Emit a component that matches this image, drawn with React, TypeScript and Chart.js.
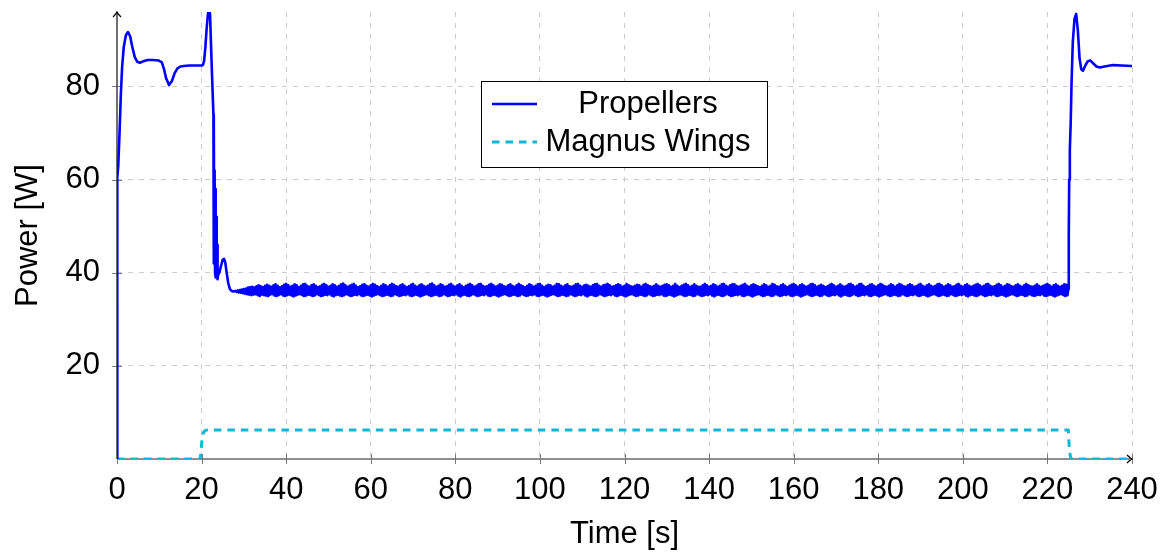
import React, { useEffect, useRef } from 'react';
import { Chart, registerables } from 'chart.js';

Chart.register(...registerables);

const FONT = '"Liberation Sans", Arial, Helvetica, sans-serif';
const FONT_SIZE = 31;

// axis ticks
const xTickValues = [0, 20, 40, 60, 80, 100, 120, 140, 160, 180, 200, 220, 240];
const yTickValues = [20, 40, 60, 80];
const X_MIN = 0;
const X_MAX = 240;
const Y_MIN = 0;
const Y_MAX = 96;

const seriesLabels = ['Propellers', 'Magnus Wings'];
const seriesColors = ['#0000ff', '#0db8d6'];

// Propellers: start-up transient (time [s], power [W])
const propHeadTime = [0, 0.03, 0.1, 0.3, 0.6, 0.9, 1.2, 1.6, 2.1, 2.6, 3.1, 3.6, 4.2, 4.8, 5.4, 6.2, 7.2, 8.5, 9.8, 10.6, 11.1, 11.6, 12.3, 13.0, 13.6, 14.3, 15.0, 15.8, 17.0, 18.5, 20.0, 20.3, 20.6, 20.9, 21.2, 21.5, 21.75, 22.0, 22.3, 22.6, 22.8, 22.85, 22.92, 23.0, 23.08, 23.18, 23.28, 23.38, 23.48, 23.58, 23.68, 23.78, 23.9, 24.2, 24.6, 25.0, 25.3, 25.6, 25.9, 26.3, 26.7, 27.1, 27.5];
const propHeadPower = [0, 45, 60.5, 63, 70, 78, 84, 88.5, 91, 91.7, 90.8, 88.6, 86.3, 85.3, 85.1, 85.4, 85.7, 85.7, 85.6, 85.2, 83.8, 81.8, 80.3, 81.2, 82.8, 83.9, 84.3, 84.4, 84.5, 84.5, 84.5, 84.6, 85.5, 88.5, 92.5, 95.5, 96.8, 95.5, 87, 79, 74, 42, 73, 44, 62, 40, 58, 39, 52, 40, 46, 38.6, 39.5, 40, 41.5, 42.8, 43.0, 42.2, 40.2, 37.8, 36.5, 36.1, 36.0];

// Propellers: cruise phase, sampled every 0.25 s from 28 s
const propCruiseStart = 28;
const propCruiseStep = 0.25;
const propCruisePower = [
  36.1, 35.9, 36.2, 35.8, 36.3, 35.7, 36.4, 35.6, 36.5, 35.5, 36.6, 35.4, 36.8, 35.3, 36.9, 35.2, 37.0, 35.3, 36.8, 35.4, 37.1, 35.2, 37.3, 35.0, 37.1, 35.3, 36.9, 35.2, 37.2, 35.1, 37.4, 35.0, 37.2, 35.3, 37.0, 35.4, 37.3, 35.1, 37.5, 35.0,
  37.2, 35.2, 36.9, 35.4, 37.1, 35.1, 37.4, 35.0, 37.6, 35.2, 37.3, 35.3, 37.0, 35.1, 37.2, 34.9, 37.5, 35.1, 37.3, 35.3, 36.9, 35.4, 37.2, 35.2, 37.5, 35.0, 37.6, 35.1, 37.2, 35.3, 37.0, 35.2, 37.3, 35.0, 37.5, 35.1, 37.2, 35.4, 36.9, 35.2,
  37.1, 35.0, 37.4, 35.1, 37.6, 35.3, 37.3, 35.2, 37.0, 35.4, 37.2, 35.1, 37.5, 34.9, 37.3, 35.2, 37.0, 35.3, 37.2, 35.1, 37.5, 35.0, 37.7, 35.2, 37.3, 35.4, 37.0, 35.2, 37.2, 35.0, 37.4, 35.1, 37.6, 35.3, 37.2, 35.2, 36.9, 35.4, 37.1, 35.1,
  37.4, 35.0, 37.5, 35.2, 37.2, 35.3, 37.0, 35.1, 37.3, 34.9, 37.6, 35.1, 37.4, 35.3, 37.1, 35.4, 36.9, 35.2, 37.2, 35.0, 37.5, 35.1, 37.3, 35.3, 37.0, 35.2, 37.3, 35.0, 37.6, 35.1, 37.4, 35.4, 37.1, 35.2, 37.0, 35.0, 37.3, 35.1, 37.5, 35.3,
  37.2, 35.2, 36.9, 35.4, 37.1, 35.1, 37.4, 35.0, 37.6, 35.2, 37.2, 35.3, 37.0, 35.1, 37.3, 34.9, 37.5, 35.1, 37.2, 35.3, 37.0, 35.4, 37.2, 35.2, 37.5, 35.0, 37.7, 35.1, 37.3, 35.3, 37.0, 35.2, 37.2, 35.0, 37.5, 35.1, 37.3, 35.4, 37.0, 35.2,
  37.1, 35.0, 37.4, 35.1, 37.6, 35.3, 37.2, 35.2, 37.0, 35.4, 37.3, 35.1, 37.5, 34.9, 37.2, 35.2, 36.9, 35.3, 37.2, 35.1, 37.4, 35.0, 37.6, 35.2, 37.3, 35.4, 37.0, 35.2, 37.2, 35.0, 37.5, 35.1, 37.6, 35.3, 37.2, 35.2, 37.0, 35.4, 37.1, 35.1,
  37.4, 35.0, 37.6, 35.2, 37.3, 35.3, 37.0, 35.1, 37.2, 34.9, 37.5, 35.1, 37.4, 35.3, 37.1, 35.4, 37.0, 35.2, 37.3, 35.0, 37.5, 35.1, 37.2, 35.3, 37.0, 35.2, 37.3, 35.0, 37.6, 35.1, 37.3, 35.4, 37.1, 35.2, 36.9, 35.0, 37.2, 35.1, 37.5, 35.3,
  37.3, 35.2, 37.0, 35.4, 37.2, 35.1, 37.5, 35.0, 37.6, 35.2, 37.2, 35.3, 36.9, 35.1, 37.2, 34.9, 37.4, 35.1, 37.3, 35.3, 37.0, 35.4, 37.2, 35.2, 37.6, 35.0, 37.5, 35.1, 37.2, 35.3, 37.0, 35.2, 37.3, 35.0, 37.5, 35.1, 37.1, 35.4, 37.0, 35.2,
  37.2, 35.0, 37.5, 35.1, 37.6, 35.3, 37.2, 35.2, 37.0, 35.4, 37.3, 35.1, 37.4, 34.9, 37.2, 35.2, 37.0, 35.3, 37.3, 35.1, 37.5, 35.0, 37.6, 35.2, 37.2, 35.4, 37.0, 35.2, 37.3, 35.0, 37.4, 35.1, 37.6, 35.3, 37.3, 35.2, 37.0, 35.4, 37.1, 35.1,
  37.3, 35.0, 37.5, 35.2, 37.3, 35.3, 37.0, 35.1, 37.2, 34.9, 37.6, 35.1, 37.3, 35.3, 37.1, 35.4, 37.0, 35.2, 37.2, 35.0, 37.4, 35.1, 37.3, 35.3, 37.0, 35.2, 37.4, 35.0, 37.6, 35.1, 37.3, 35.4, 37.1, 35.2, 37.0, 35.0, 37.2, 35.1, 37.5, 35.3,
  37.2, 35.2, 37.0, 35.4, 37.2, 35.1, 37.4, 35.0, 37.5, 35.2, 37.3, 35.3, 37.0, 35.1, 37.2, 34.9, 37.6, 35.1, 37.2, 35.3, 36.9, 35.4, 37.2, 35.2, 37.4, 35.0, 37.6, 35.1, 37.3, 35.3, 37.0, 35.2, 37.2, 35.0, 37.5, 35.1, 37.2, 35.4, 37.0, 35.2,
  37.0, 35.0, 37.3, 35.1, 37.6, 35.3, 37.3, 35.2, 37.0, 35.4, 37.2, 35.1, 37.5, 34.9, 37.3, 35.2, 37.0, 35.3, 37.2, 35.1, 37.5, 35.0, 37.6, 35.2, 37.2, 35.4, 37.0, 35.2, 37.3, 35.0, 37.5, 35.1, 37.5, 35.3, 37.2, 35.2, 37.0, 35.4, 37.2, 35.1,
  37.4, 35.0, 37.6, 35.2, 37.2, 35.3, 37.0, 35.1, 37.3, 34.9, 37.5, 35.1, 37.3, 35.3, 37.1, 35.4, 36.9, 35.2, 37.2, 35.0, 37.5, 35.1, 37.3, 35.3, 37.0, 35.2, 37.2, 35.0, 37.6, 35.1, 37.4, 35.4, 37.1, 35.2, 37.0, 35.0, 37.3, 35.1, 37.5, 35.3,
  37.2, 35.2, 36.9, 35.4, 37.2, 35.1, 37.4, 35.0, 37.6, 35.2, 37.3, 35.3, 37.0, 35.1, 37.3, 34.9, 37.5, 35.1, 37.2, 35.3, 37.0, 35.4, 37.2, 35.2, 37.5, 35.0, 37.6, 35.1, 37.3, 35.3, 37.0, 35.2, 37.2, 35.0, 37.4, 35.1, 37.2, 35.4, 36.9, 35.2,
  37.1, 35.0, 37.4, 35.1, 37.6, 35.3, 37.3, 35.2, 37.0, 35.4, 37.2, 35.1, 37.5, 34.9, 37.2, 35.2, 37.0, 35.3, 37.2, 35.1, 37.5, 35.0, 37.6, 35.2, 37.3, 35.4, 37.0, 35.2, 37.2, 35.0, 37.5, 35.1, 37.6, 35.3, 37.2, 35.2, 36.9, 35.4, 37.1, 35.1,
  37.4, 35.0, 37.5, 35.2, 37.2, 35.3, 37.0, 35.1, 37.3, 34.9, 37.6, 35.1, 37.4, 35.3, 37.1, 35.4, 37.0, 35.2, 37.2, 35.0, 37.5, 35.1, 37.3, 35.3, 37.0, 35.2, 37.3, 35.0, 37.6, 35.1, 37.4, 35.4, 37.1, 35.2, 37.0, 35.0, 37.3, 35.1, 37.5, 35.3,
  37.3, 35.2, 37.0, 35.4, 37.1, 35.1, 37.4, 35.0, 37.6, 35.2, 37.2, 35.3, 37.0, 35.1, 37.3, 34.9, 37.5, 35.1, 37.2, 35.3, 37.0, 35.4, 37.2, 35.2, 37.5, 35.0, 37.6, 35.1, 37.3, 35.3, 37.0, 35.2, 37.2, 35.0, 37.5, 35.1, 37.3, 35.4, 37.0, 35.2,
  37.1, 35.0, 37.4, 35.1, 37.6, 35.3, 37.2, 35.2, 37.0, 35.4, 37.3, 35.1, 37.5, 34.9, 37.2, 35.2, 37.0, 35.3, 37.2, 35.1, 37.4, 35.0, 37.6, 35.2, 37.3, 35.4, 37.0, 35.2, 37.2, 35.0, 37.5, 35.1, 37.6, 35.3, 37.2, 35.2, 37.0, 35.4, 37.1, 35.1,
  37.4, 35.0, 37.6, 35.2, 37.3, 35.3, 37.0, 35.1, 37.2, 34.9, 37.5, 35.1, 37.4, 35.3, 37.1, 35.4, 37.0, 35.2, 37.3, 35.0, 37.5, 35.1, 37.2, 35.3, 37.0, 35.2, 37.3, 35.0, 37.6, 35.1, 37.3, 35.4, 37.1, 35.2, 37.0, 35.0, 37.2, 35.1, 37.5, 35.3,
  37.2, 35.2, 37.0, 35.4, 37.2, 35.1, 37.4, 35.0, 37.6, 35.2, 37.3, 35.3, 37.0, 35.1, 37.3, 34.9, 37.5, 35.1, 37.2, 35.3, 37.0, 35.4, 37.2, 35.2, 37.5, 35.0, 37.4, 35.2,
];

// Propellers: wings off again, end transient
const propTailTime = [224.95, 225.05, 225.15, 225.3, 225.5, 225.7, 226.0, 226.4, 226.8, 227.2, 227.6, 228.0, 228.4, 228.9, 229.5, 230.1, 230.8, 231.6, 232.4, 233.5, 235.5, 237.5, 240];
const propTailPower = [36.5, 48, 60, 66.5, 72, 80.5, 89.5, 94.5, 95.6, 92, 86, 83.7, 83.4, 84.4, 85.4, 85.6, 85, 84.3, 84.1, 84.3, 84.6, 84.5, 84.4];

// Magnus wings
const magnusTime = [0, 19.7, 19.9, 20.1, 20.4, 20.8, 21.3, 224.95, 225.1, 225.25, 225.5, 225.8, 240];
const magnusPower = [0, 0, 2, 4.3, 5.6, 6.1, 6.25, 6.25, 3.5, 1.5, 0.3, 0, 0];

function buildPropellers() {
  const pts: { x: number; y: number }[] = [];
  propHeadTime.forEach((t, i) => pts.push({ x: t, y: propHeadPower[i] }));
  propCruisePower.forEach((v, i) => pts.push({ x: propCruiseStart + i * propCruiseStep, y: v }));
  propTailTime.forEach((t, i) => pts.push({ x: t, y: propTailPower[i] }));
  return pts;
}

function buildMagnus() {
  return magnusTime.map((t, i) => ({ x: t, y: magnusPower[i] }));
}

const decorPlugin = {
  id: 'decor',
  beforeDatasetsDraw(chart: any) {
    const { ctx, chartArea, scales } = chart;
    const { left, right, top, bottom } = chartArea;
    ctx.save();
    // tick marks
    ctx.strokeStyle = '#7a7a7a';
    ctx.lineWidth = 1;
    ctx.beginPath();
    xTickValues.forEach((v) => {
      const px = Math.round(scales.x.getPixelForValue(v)) + 0.5;
      ctx.moveTo(px, bottom - 5);
      ctx.lineTo(px, bottom + 5);
    });
    yTickValues.forEach((v) => {
      const py = Math.round(scales.y.getPixelForValue(v)) + 0.5;
      ctx.moveTo(left - 5, py);
      ctx.lineTo(left + 5, py);
    });
    ctx.stroke();
    // x axis line
    ctx.strokeStyle = '#6a6a6a';
    ctx.lineWidth = 1.6;
    ctx.beginPath();
    ctx.moveTo(left, bottom);
    ctx.lineTo(right - 2, bottom);
    ctx.stroke();
    // y axis line
    ctx.strokeStyle = '#333333';
    ctx.lineWidth = 1.4;
    ctx.beginPath();
    ctx.moveTo(left, bottom);
    ctx.lineTo(left, top + 1);
    ctx.stroke();
    // arrow heads
    ctx.strokeStyle = '#000';
    ctx.lineWidth = 1.3;
    ctx.beginPath();
    ctx.moveTo(left - 4, top + 5);
    ctx.quadraticCurveTo(left - 1, top + 2, left, top);
    ctx.quadraticCurveTo(left + 1, top + 2, left + 4, top + 5);
    ctx.moveTo(right - 5, bottom - 4);
    ctx.quadraticCurveTo(right - 2, bottom - 1, right, bottom);
    ctx.quadraticCurveTo(right - 2, bottom + 1, right - 5, bottom + 4);
    ctx.stroke();
    ctx.restore();
  },
  afterDraw(chart: any) {
    const { ctx, chartArea } = chart;
    const { left, right, top, bottom } = chartArea;
    ctx.save();
    // axis titles
    ctx.fillStyle = '#000';
    ctx.font = `${FONT_SIZE}px ${FONT}`;
    ctx.textAlign = 'center';
    ctx.textBaseline = 'alphabetic';
    ctx.fillText('Time [s]', (left + right) / 2, 543);
    ctx.save();
    ctx.translate(37, (top + bottom) / 2);
    ctx.rotate(-Math.PI / 2);
    ctx.fillText('Power [W]', 0, 0);
    ctx.restore();

    // legend
    const lx = 481.5, ly = 81.5, lw = 286, lh = 86;
    ctx.fillStyle = '#fff';
    ctx.fillRect(lx, ly, lw, lh);
    ctx.strokeStyle = '#000';
    ctx.lineWidth = 1;
    ctx.strokeRect(lx, ly, lw, lh);
    const rows = [104, 142];
    chart.data.datasets.forEach((ds: any, i: number) => {
      const y = rows[i];
      ctx.strokeStyle = ds.borderColor;
      ctx.lineWidth = ds.borderWidth;
      ctx.setLineDash(ds.borderDash || []);
      ctx.beginPath();
      ctx.moveTo(492, y);
      ctx.lineTo(537, y);
      ctx.stroke();
      ctx.setLineDash([]);
      ctx.fillStyle = '#000';
      ctx.font = `${FONT_SIZE}px ${FONT}`;
      ctx.textAlign = 'center';
      ctx.textBaseline = 'middle';
      ctx.fillText(ds.label, 648, y);
    });
    ctx.restore();
  },
};

export default function App() {
  const canvasRef = useRef<HTMLCanvasElement | null>(null);

  useEffect(() => {
    if (!canvasRef.current) return;
    const chart = new Chart(canvasRef.current, {
      type: 'line',
      data: {
        datasets: [
          {
            label: seriesLabels[0],
            data: buildPropellers(),
            borderColor: seriesColors[0],
            backgroundColor: seriesColors[0],
            borderWidth: 2.6,
            borderJoinStyle: 'round',
            borderCapStyle: 'round',
            pointRadius: 0,
            tension: 0,
            fill: false,
          },
          {
            label: seriesLabels[1],
            data: buildMagnus(),
            borderColor: seriesColors[1],
            backgroundColor: seriesColors[1],
            borderWidth: 3,
            borderDash: [7.5, 6],
            borderJoinStyle: 'round',
            pointRadius: 0,
            tension: 0,
            fill: false,
          },
        ],
      },
      options: {
        animation: false,
        responsive: true,
        maintainAspectRatio: false,
        parsing: false as any,
        layout: { padding: { top: 12, right: 34, left: 0, bottom: 0 } },
        plugins: {
          legend: { display: false },
          tooltip: { enabled: false },
          title: { display: false },
        },
        scales: {
          x: {
            type: 'linear',
            min: X_MIN,
            max: X_MAX,
            afterFit: (s: any) => {
              s.height = 93;
              s.paddingLeft = 0;
              s.paddingRight = 0;
            },
            afterBuildTicks: (s: any) => { s.ticks = xTickValues.map((v) => ({ value: v })); },
            ticks: {
              color: '#000',
              font: { family: FONT, size: FONT_SIZE },
              padding: 13,
              maxRotation: 0,
              autoSkip: false,
              callback: (v: any) => String(v),
            },
            grid: {
              drawTicks: false,
              color: (c: any) => (c.tick && c.tick.value === 0 ? 'rgba(0,0,0,0)' : '#cccccc'),
              lineWidth: 1,
            },
            border: { display: false, dash: [5, 6] },
          },
          y: {
            type: 'linear',
            min: Y_MIN,
            max: Y_MAX,
            afterFit: (s: any) => {
              s.width = 117;
              s.paddingTop = 0;
              s.paddingBottom = 0;
            },
            afterBuildTicks: (s: any) => { s.ticks = yTickValues.map((v) => ({ value: v })); },
            ticks: {
              color: '#000',
              font: { family: FONT, size: FONT_SIZE },
              padding: 17,
              autoSkip: false,
              callback: (v: any) => String(v),
            },
            grid: {
              drawTicks: false,
              color: '#cccccc',
              lineWidth: 1,
            },
            border: { display: false, dash: [5, 6] },
          },
        },
      },
      plugins: [decorPlugin],
    } as any);
    return () => chart.destroy();
  }, []);

  return (
    <div style={{ position: 'absolute', left: 0, top: 0, width: 1166, height: 552, background: '#fff' }}>
      <canvas ref={canvasRef} />
    </div>
  );
}
